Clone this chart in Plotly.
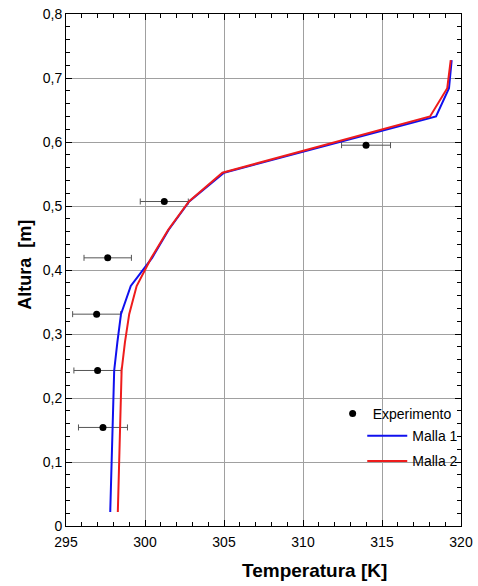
import plotly.graph_objects as go

# Experimental data
exp_T = [297.34, 297.0, 296.94, 297.64, 301.22, 313.99]
exp_h = [0.154, 0.243, 0.331, 0.419, 0.507, 0.595]
exp_err = [1.55, 1.5, 1.52, 1.5, 1.52, 1.55]

# Simulation heights
h_sim = [0.022, 0.066, 0.110, 0.155, 0.199, 0.243, 0.287, 0.331, 0.375,
         0.419, 0.463, 0.507, 0.552, 0.596, 0.640, 0.684, 0.728]
# Malla 1 (blue)
T_m1 = [297.80, 297.85, 297.90, 297.95, 298.00, 298.05, 298.25, 298.48, 299.10,
        300.45, 301.50, 302.80, 305.00, 311.70, 318.42, 319.24, 319.41]
# Malla 2 (red)
T_m2 = [298.28, 298.32, 298.36, 298.40, 298.45, 298.52, 298.73, 299.00, 299.47,
        300.40, 301.47, 302.78, 304.90, 311.40, 318.04, 319.13, 319.35]

x_ticks = [295, 300, 305, 310, 315, 320]
y_ticks = [0, 0.1, 0.2, 0.3, 0.4, 0.5, 0.6, 0.7, 0.8]
y_labels = ["0", "0,1", "0,2", "0,3", "0,4", "0,5", "0,6", "0,7", "0,8"]

FONT = "Liberation Sans, Arial, sans-serif"

fig = go.Figure()
fig.add_trace(go.Scatter(
    x=exp_T, y=exp_h, mode="markers", name="Experimento",
    marker=dict(color="black", size=7),
    error_x=dict(type="data", array=exp_err, color="#555555", thickness=1, width=3),
    legend="legend", showlegend=True,
))
fig.add_trace(go.Scatter(
    x=T_m1, y=h_sim, mode="lines", name="Malla 1",
    line=dict(color="#1010ee", width=2), legend="legend2", legendgroup="g1",
))
fig.add_trace(go.Scatter(
    x=T_m2, y=h_sim, mode="lines", name="Malla 2",
    line=dict(color="#ee1c1c", width=2), legend="legend2", legendgroup="g2",
))

axis_common = dict(
    showline=True, linecolor="black", linewidth=1, mirror="ticks",
    ticks="inside", ticklen=6, tickcolor="black",
    showgrid=True, gridcolor="#a0a0a0", gridwidth=1, zeroline=False,
    tickfont=dict(family=FONT, size=14, color="black"),
    automargin=False,
)

fig.update_xaxes(
    range=[295, 320], tickvals=x_ticks, ticktext=[str(v) for v in x_ticks],
    minor=dict(dtick=1, ticks="inside", ticklen=4, tickcolor="black", showgrid=False),
    ticklabelstandoff=3,
    **axis_common,
)
fig.update_yaxes(
    range=[0, 0.8], tickvals=y_ticks, ticktext=y_labels,
    minor=dict(dtick=0.02, ticks="inside", ticklen=4, tickcolor="black", showgrid=False),
    **axis_common,
)

fig.update_layout(
    width=478, height=586,
    margin=dict(l=66, r=17, t=14, b=60, autoexpand=False),
    paper_bgcolor="white", plot_bgcolor="white",
    separators=", ",
    showlegend=True,
    font=dict(family=FONT, size=14, color="black"),
    legend=dict(x=0.675, y=0.219, xanchor="left", yanchor="middle",
                bgcolor="rgba(0,0,0,0)", font=dict(family=FONT, size=14)),
    legend2=dict(x=0.75, y=0.151, xanchor="left", yanchor="middle",
                 bgcolor="rgba(0,0,0,0)", font=dict(family=FONT, size=14),
                 tracegroupgap=4, itemwidth=40),
    annotations=[
        dict(text="<b>Temperatura [K]</b>", x=0.63, xref="paper", y=-0.087, yref="paper",
             showarrow=False, font=dict(family=FONT, size=19, color="black"),
             xanchor="center", yanchor="middle"),
        dict(text="<b>Altura  [m]</b>", x=-0.104, xref="paper", y=0.51, yref="paper",
             textangle=-90, showarrow=False, font=dict(family=FONT, size=18, color="black"),
             xanchor="center", yanchor="middle"),
    ],
)

fig.write_html("out.html")
